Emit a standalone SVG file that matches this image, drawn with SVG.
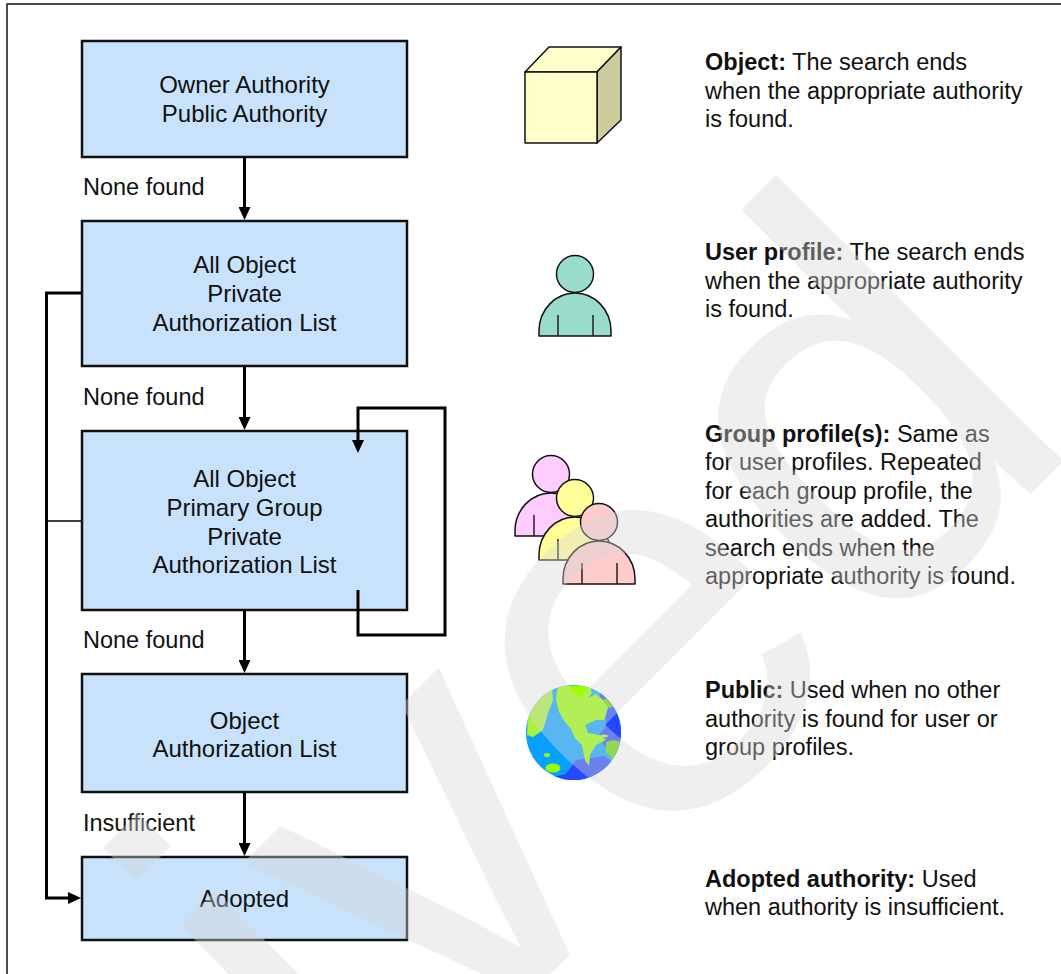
<svg xmlns="http://www.w3.org/2000/svg" width="1061" height="974" viewBox="0 0 1061 974">
  <style>
    .box { fill: #c8e2fc; stroke: #111; stroke-width: 2.5; }
    .lbl { font-family: "Liberation Sans", Arial, sans-serif; font-size: 23.5px; fill: #111; }
    .bt { font-size: 24px; }
    .mid { text-anchor: middle; }
    .b { font-weight: bold; }
    .wire { fill: none; stroke: #000; stroke-width: 3; }
    .thin { fill: none; stroke: #000; stroke-width: 1.6; }
    .ico { stroke: #111; stroke-width: 1.5; stroke-linejoin: round; }
    .ink { fill: none; stroke: #222; stroke-width: 1.5; }
    .mark { font-family: "Liberation Sans", Arial, sans-serif; font-size: 560px; fill: #d7d7d7; fill-opacity: 0.4; }
  </style>
  <defs>
    <marker id="ah" viewBox="0 0 13 12" refX="7" refY="6" markerWidth="13" markerHeight="12" markerUnits="userSpaceOnUse" orient="auto">
      <path d="M0,0 L13,6 L0,12 Z" fill="#000"/>
    </marker>
    <clipPath id="globe-clip"><circle cx="573.5" cy="732.5" r="47.5"/></clipPath>
  </defs>

  <rect x="0" y="0" width="1061" height="974" fill="#fff"/>
  <!-- page frame -->
  <rect x="7" y="4" width="1100" height="1020" fill="none" stroke="#111" stroke-width="1.5"/>

  <!-- flow boxes -->
  <g id="owner">
    <rect class="box" x="82" y="41" width="325" height="116"/>
    <text class="lbl bt mid" x="244.5" y="93">Owner Authority</text>
    <text class="lbl bt mid" x="244.5" y="122">Public Authority</text>
  </g>
  <g id="allobj-private">
    <rect class="box" x="82" y="221" width="325" height="145"/>
    <text class="lbl bt mid" x="244.5" y="273">All Object</text>
    <text class="lbl bt mid" x="244.5" y="302">Private</text>
    <text class="lbl bt mid" x="244.5" y="331">Authorization List</text>
  </g>
  <g id="allobj-group">
    <rect class="box" x="82" y="431" width="325" height="179"/>
    <text class="lbl bt mid" x="244.5" y="487">All Object</text>
    <text class="lbl bt mid" x="244.5" y="516">Primary Group</text>
    <text class="lbl bt mid" x="244.5" y="545">Private</text>
    <text class="lbl bt mid" x="244.5" y="573">Authorization List</text>
  </g>
  <g id="objauth">
    <rect class="box" x="82" y="674" width="325" height="118"/>
    <text class="lbl bt mid" x="244.5" y="729">Object</text>
    <text class="lbl bt mid" x="244.5" y="757">Authorization List</text>
  </g>
  <g id="adopted">
    <rect class="box" x="82" y="857" width="325" height="83"/>
    <text class="lbl bt mid" x="244.5" y="907">Adopted</text>
  </g>

  <!-- connectors -->
  <g id="connectors">
    <path class="wire" d="M244.5,158 V214" marker-end="url(#ah)"/>
    <path class="wire" d="M244.5,367 V424" marker-end="url(#ah)"/>
    <path class="wire" d="M244.5,611 V667" marker-end="url(#ah)"/>
    <path class="wire" d="M244.5,793 V850" marker-end="url(#ah)"/>
    <path class="wire" d="M82,293 H46.5 V898 H75" marker-end="url(#ah)"/>
    <path class="thin" d="M46.5,521 H82"/>
    <path class="wire" d="M358,590 V635 H445 V408 H358 V447" marker-end="url(#ah)"/>
    <text class="lbl" x="83" y="195">None found</text>
    <text class="lbl" x="83" y="405">None found</text>
    <text class="lbl" x="83" y="648">None found</text>
    <text class="lbl" x="83" y="831">Insufficient</text>
  </g>

  <!-- object cube -->
  <g id="icon-object" class="ico">
    <polygon points="525,72 549,47 621,47 597,72" fill="#ffffcc"/>
    <polygon points="597,72 621,47 621,120 597,143" fill="#cccc9c"/>
    <rect x="525" y="72" width="72" height="71" fill="#ffffcc"/>
  </g>

  <!-- single user -->
  <g id="icon-user" class="ico">
    <path d="M539,336 V331 A36,38 0 0 1 611,331 V336 Z" fill="#9adccb"/>
    <path class="ink" d="M558,315 V336 M593,315 V336"/>
    <circle cx="575" cy="274" r="18.5" fill="#9adccb"/>
  </g>

  <!-- group of users -->
  <g id="icon-group" class="ico">
    <path d="M515,536 V531 A36,38 0 0 1 587,531 V536 Z" fill="#ffccff"/>
    <path class="ink" d="M534,515 V536"/>
    <circle cx="551" cy="474" r="18.5" fill="#ffccff"/>
    <path d="M539,560 V555 A36,38 0 0 1 611,555 V560 Z" fill="#ffff99"/>
    <path class="ink" d="M558,539 V560"/>
    <circle cx="575" cy="498" r="18.5" fill="#ffff99"/>
    <path d="M563,584 V579 A36,38 0 0 1 635,579 V584 Z" fill="#ffcccc"/>
    <path class="ink" d="M582,563 V584 M617,563 V584"/>
    <circle cx="599" cy="522" r="18.5" fill="#ffcccc"/>
  </g>

  <!-- globe -->
  <g id="icon-public">
    <circle cx="573.5" cy="732.5" r="47.5" fill="#08a0ff"/>
    <g clip-path="url(#globe-clip)">
      <!-- deep water east and south -->
      <path d="M600,690 L614,688 L626,705 L626,745 L618,760 L606,748 L598,736 L606,726 L606,712 L600,700 Z" fill="#2448ff"/>
      <path d="M576,760 L604,756 L618,766 L612,784 L560,784 L548,778 L566,774 Z" fill="#2448ff"/>
      <!-- east coast strip -->
      <path d="M606,742 L614,740 L626,744 L624,758 L616,762 L606,752 Z" fill="#66d800"/>
      <!-- main continent -->
      <path d="M560,686 L590,685 L592,693 L588,698 L596,694 L603,700 L609,705 L604,720 L596,720 L585,725 L588,733 L600,735 L606,740 L596,745 L590,755 L589,766 L585,760 L582,745 L575,738 L571,729 L565,722 L559,712 L556,700 L557,690 Z" fill="#99ff00"/>
      <path d="M603,700 L612,696 L618,706 L608,708 Z" fill="#5fd400"/>
      <!-- western landmass -->
      <path d="M527,735 L528,713 L540,695 L552,688 L553,700 L548,713 L543,730 L533,737 Z" fill="#a8f23c"/>
      <!-- small islands -->
      <ellipse cx="553" cy="768" rx="7.5" ry="4.5" fill="#99ff00"/>
      <ellipse cx="547" cy="755" rx="3" ry="2" fill="#99ff00"/>
      <ellipse cx="604" cy="736" rx="4" ry="1.6" fill="#99ff00"/>
    </g>
  </g>

  <!-- legend texts -->
  <g id="legend">
    <text class="lbl" x="705" y="70"><tspan class="b">Object:</tspan> The search ends</text>
    <text class="lbl" x="705" y="98.5">when the appropriate authority</text>
    <text class="lbl" x="705" y="127">is found.</text>

    <text class="lbl" x="705" y="260"><tspan class="b">User profile:</tspan> The search ends</text>
    <text class="lbl" x="705" y="288.5">when the appropriate authority</text>
    <text class="lbl" x="705" y="317">is found.</text>

    <text class="lbl" x="705" y="442"><tspan class="b">Group profile(s):</tspan> Same as</text>
    <text class="lbl" x="705" y="470">for user profiles. Repeated</text>
    <text class="lbl" x="705" y="499">for each group profile, the</text>
    <text class="lbl" x="705" y="527">authorities are added. The</text>
    <text class="lbl" x="705" y="556">search ends when the</text>
    <text class="lbl" x="705" y="584">appropriate authority is found.</text>

    <text class="lbl" x="705" y="698"><tspan class="b">Public:</tspan> Used when no other</text>
    <text class="lbl" x="705" y="726.5">authority is found for user or</text>
    <text class="lbl" x="705" y="755">group profiles.</text>

    <text class="lbl" x="705" y="887"><tspan class="b">Adopted authority:</tspan> Used</text>
    <text class="lbl" x="705" y="915">when authority is insufficient.</text>
  </g>

  <!-- diagonal archive stamp -->
  <text class="mark" transform="rotate(-45)" x="463" y="1078" text-anchor="end">Archived</text>
</svg>
